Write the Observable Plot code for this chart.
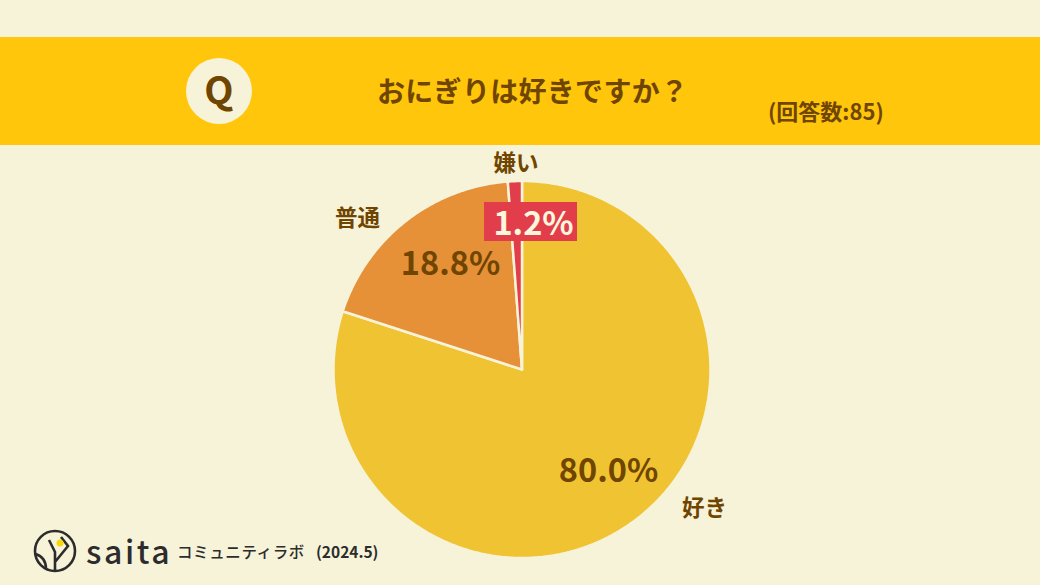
<!DOCTYPE html>
<html lang="ja">
<head>
<meta charset="utf-8">
<script src="https://cdn.jsdelivr.net/npm/d3@7"></script>
<script src="https://cdn.jsdelivr.net/npm/@observablehq/plot@0.6"></script>
<style>
  html, body { margin: 0; padding: 0; background: #f7f3d9; }
  body { width: 1040px; height: 585px; position: relative; overflow: hidden;
         font-family: "Noto Sans CJK JP", "Noto Sans", sans-serif; color: #6f4500; }
  #band { position: absolute; left: 0; top: 37px; width: 1040px; height: 108px; background: #ffc60c; }
  #q { position: absolute; left: 186px; top: 58px; width: 66px; height: 66px; border-radius: 50%;
       background: #f7f3d9; text-align: center; line-height: 60px; font-size: 38px; font-weight: 700; }
  #title { position: absolute; left: 377px; top: 69px; font-size: 28px; line-height: 42px; font-weight: 700; white-space: nowrap; letter-spacing: .3px; }
  #n { position: absolute; left: 768px; top: 93px; font-size: 22px; line-height: 34px; font-weight: 700; white-space: nowrap; }
  #chart { position: absolute; left: 0; top: 145px; }
  #chart svg { display: block; }
  #foot { position: absolute; left: 0; top: 520px; width: 420px; height: 60px; color: #2c2c2c; }
  #foot svg { position: absolute; left: 30px; top: 7px; }
  #saita { position: absolute; left: 86px; top: 7px; font-size: 32px; line-height: 46px; font-weight: 500; letter-spacing: 2.6px; font-family: "Noto Sans CJK JP"; }
  #lab { position: absolute; left: 177px; top: 18px; font-size: 15.5px; line-height: 26px; font-weight: 500; white-space: nowrap; letter-spacing: .6px; }
  #date { position: absolute; left: 316px; top: 18px; font-size: 15.5px; line-height: 26px; font-weight: 700; white-space: nowrap; }
</style>
</head>
<body>
<div id="band"></div>
<div id="q">Q</div>
<div id="title"></div>
<div id="n"></div>
<div id="chart"></div>
<div id="foot">
  <svg width="50" height="50" viewBox="0 0 50 50" fill="none" stroke="#2c2c2c" stroke-width="2.6">
    <circle cx="25" cy="24" r="20"/>
    <path d="M25 44V25L19 13M25 35L38 19L31 10"/>
    <path d="M5.5 27C12 29 16 34 16 42"/>
    <circle cx="30" cy="16" r="3.5" fill="#f5d90a" stroke="none"/>
  </svg>
  <div id="saita">saita</div>
  <div id="lab">コミュニティラボ</div>
  <div id="date">(2024.5)</div>
</div>
<script>
const titleText = "おにぎりは好きですか？";
const sampleText = "(回答数:85)";
const categories = ["好き", "普通", "嫌い"];
const shares = [80.0, 18.8, 1.2];
const colors = ["#f0c332", "#e69138", "#e23d4b"];
const shareLabels = ["80.0%", "18.8%", "1.2%"];

document.getElementById("title").textContent = titleText;
document.getElementById("n").textContent = sampleText;

// Layout of the pie in pixels, converted to unit-circle coordinates for the scales.
const W = 1040, H = 440, cx = 521.5, cy = 224, R = 188.5;
const ux = px => (px - cx) / R;
const uy = py => (cy - py) / R;

// Slices are walked clockwise from twelve o'clock, in order of the values.
const total = d3.sum(shares);
let start = 0;
const sliceOutline = [];
categories.forEach((category, i) => {
  const a0 = start / total * 2 * Math.PI;
  const a1 = (start + shares[i]) / total * 2 * Math.PI;
  const steps = Math.max(2, Math.ceil((a1 - a0) / 0.01));
  sliceOutline.push({category, x: 0, y: 0});
  for (let k = 0; k <= steps; k++) {
    const a = a0 + (a1 - a0) * k / steps;
    sliceOutline.push({category, x: Math.sin(a), y: Math.cos(a)});
  }
  sliceOutline.push({category, x: 0, y: 0});
  start += shares[i];
});

const namePositions = [[704, 508], [357, 218], [515.5, 163]];
const sharePositions = [[608, 471.5], [450, 264.5], [533, 224]];
const labelBox = {x1: 484, x2: 577, y1: 202, y2: 241};
const names = categories.map((c, i) => ({c, x: ux(namePositions[i][0]), y: uy(namePositions[i][1] - 145)}));
const values = shareLabels.map((c, i) => ({c, i, x: ux(sharePositions[i][0]), y: uy(sharePositions[i][1] - 145)}));
const font = {fontFamily: "'Noto Sans CJK JP', sans-serif"};

const plot = Plot.plot({
  width: W, height: H,
  margin: 0,
  style: {background: "transparent", overflow: "visible"},
  x: {axis: null, domain: [ux(0), ux(W)], range: [0, W]},
  y: {axis: null, domain: [uy(0), uy(H)], range: [0, H]},
  color: {domain: categories, range: colors},
  marks: [
    Plot.line(sliceOutline, {x: "x", y: "y", z: "category", fill: "category",
      stroke: "#f7f3d9", strokeWidth: 2.5, strokeLinejoin: "miter", curve: "linear"}),
    Plot.rect([labelBox], {x1: d => ux(d.x1), x2: d => ux(d.x2), y1: d => uy(d.y1 - 145), y2: d => uy(d.y2 - 145), fill: colors[2]}),
    Plot.text(names, {x: "x", y: "y", text: "c", fontSize: 22.5, fontWeight: 700, fill: "#6f4500", ...font}),
    Plot.text(values, {x: "x", y: "y", text: "c", fontSize: 32.5, fontWeight: 700,
      fill: d => d.i === 2 ? "#fbf6dc" : "#6f4500", ...font})
  ]
});
document.getElementById("chart").append(plot);
</script>
</body>
</html>
